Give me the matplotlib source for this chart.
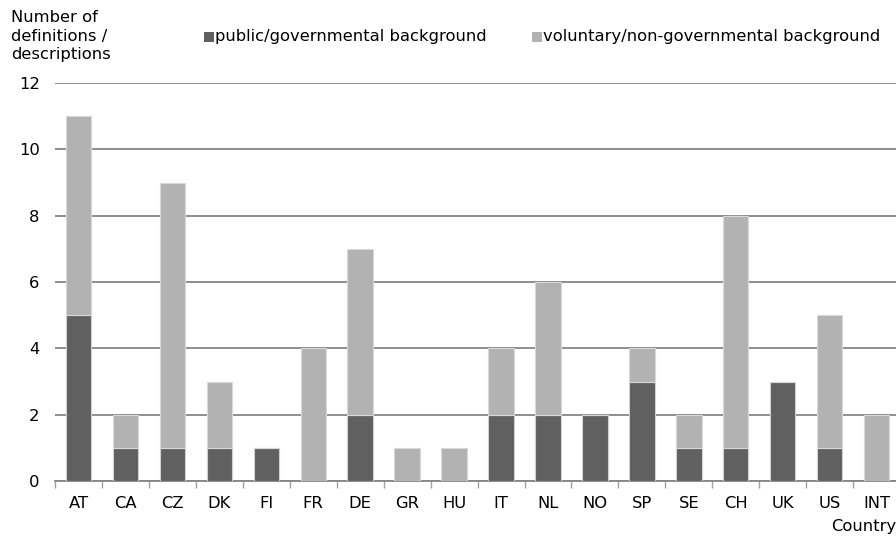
import matplotlib
matplotlib.use("Agg")
import matplotlib.pyplot as plt
from matplotlib.patches import Rectangle
import numpy as np

countries = ["AT", "CA", "CZ", "DK", "FI", "FR", "DE", "GR", "HU", "IT",
             "NL", "NO", "SP", "SE", "CH", "UK", "US", "INT"]
public = [5, 1, 1, 1, 1, 0, 2, 0, 0, 2, 2, 2, 3, 1, 1, 3, 1, 0]
voluntary = [6, 1, 8, 2, 0, 4, 5, 1, 1, 2, 4, 0, 1, 1, 7, 0, 4, 2]
yticks = [0, 2, 4, 6, 8, 10, 12]

dark = "#606060"
light = "#b2b2b2"
gridc = "#868686"
fs = 11.8

plt.rcParams['font.family'] = ['DejaVu Sans']
fig = plt.figure(figsize=(8.96, 5.37), dpi=100)
W, H = 896, 537
x0, x1 = 55, 55 + 18 * 46.95
y0, y1 = 481, 83
ax = fig.add_axes([x0 / W, 1 - y0 / H, (x1 - x0) / W, (y0 - y1) / H])

x = np.arange(len(countries))
bw = 0.54
ax.bar(x, public, bw, color=dark, edgecolor="#d0d0d0", linewidth=0.8, zorder=3)
ax.bar(x, voluntary, bw, bottom=public, color=light, edgecolor="#d8d8d8", linewidth=0.8, zorder=3)

ax.set_xlim(-0.5, len(countries) - 0.5)
ax.set_ylim(0, 12)
ax.set_yticks(yticks)
ax.yaxis.grid(True, color=gridc, linewidth=1.3, zorder=0)
ax.set_axisbelow(True)
for s in ["top", "right", "left"]:
    ax.spines[s].set_visible(False)
ax.spines["bottom"].set_color(gridc)
ax.spines["bottom"].set_linewidth(1.3)
ax.tick_params(axis="y", length=0, labelsize=fs, pad=11)
ax.set_xticks(x)
ax.set_xticklabels(countries, fontsize=fs)
ax.tick_params(axis="x", length=0, pad=11)
ax.set_xticks(np.arange(-0.5, len(countries), 1), minor=True)
ax.tick_params(axis="x", which="minor", length=5, color="#a0a0a0", width=1.0, direction="out")

fig.text(11 / W, 1 - 36 / H, "Number of\ndefinitions /\ndescriptions", fontsize=fs,
         va="center", ha="left", linespacing=1.3)
fig.text(896 / W, 1 - 527 / H, "Country", fontsize=fs, ha="right", va="center")

# legend
for lx, label, c in [(204, "public/governmental background", dark),
                     (532, "voluntary/non-governmental background", light)]:
    fig.patches.append(Rectangle((lx / W, 1 - 42 / H), 10 / W, 10 / H, transform=fig.transFigure,
                                 facecolor=c, edgecolor="none"))
    fig.text((lx + 11) / W, 1 - 37 / H, label, fontsize=fs, va="center", ha="left")

fig.savefig("out.png", dpi=100)
